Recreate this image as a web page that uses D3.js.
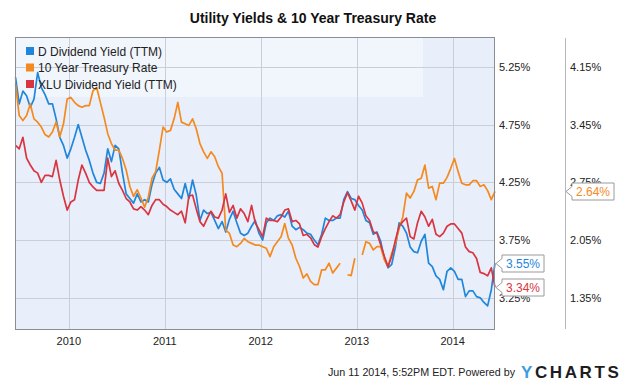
<!DOCTYPE html>
<html>
<head>
<meta charset="utf-8">
<script src="https://cdn.jsdelivr.net/npm/d3@7"></script>
<style>
  body { margin: 0; background: #fff; }
  svg { display: block; font-family: "Liberation Sans", Arial, sans-serif; }
</style>
</head>
<body>
<svg id="chart" width="627" height="382"></svg>
<script>
// sampled every ~2 weeks, Jun 2009 -> Jun 11 2014
const startDate = new Date(2009, 5, 12);
const endDate = new Date(2014, 5, 11);

const dYield = [
  5.16, 4.93, 5.04, 5.00, 4.90, 4.97, 5.20, 5.07, 5.01, 4.93, 4.93, 4.80, 4.64, 4.57, 4.46, 4.54, 4.64, 4.75, 4.64, 4.53, 4.44, 4.33, 4.25, 4.24, 4.33, 4.54, 4.43, 4.57, 4.54, 4.33, 4.15, 4.11, 4.07,
  4.15, 4.08, 4.10, 4.08, 4.23, 4.33, 4.38, 4.27, 4.25, 4.28, 4.19, 4.15, 4.11, 4.24, 4.11, 4.27, 4.14, 3.92, 4.01, 3.98, 3.99, 3.92, 3.85, 3.91, 3.82, 3.93, 4.00, 3.90, 3.81, 3.79, 3.81, 3.87, 3.92,
  3.81, 3.75, 3.90, 3.94, 3.92, 3.96, 3.97, 3.95, 4.00, 3.87, 3.84, 3.86, 3.84, 3.81, 3.80, 3.75, 3.71, 3.80, 3.94, 3.92, 3.92, 3.94, 3.94, 4.10, 4.17, 4.11, 4.10, 4.05, 4.01, 3.92, 3.90, 3.80,
  3.82, 3.74, 3.59, 3.51, 3.54, 3.69, 3.90, 3.87, 3.81, 3.69, 3.65, 3.64, 3.74, 3.80, 3.55, 3.52, 3.44, 3.41, 3.32, 3.48, 3.51, 3.48, 3.41, 3.41, 3.26, 3.31, 3.31, 3.26, 3.25, 3.21, 3.18, 3.32, 3.55
];

const treasury = [
  3.94, 3.56, 3.50, 3.56, 3.70, 3.52, 3.48, 3.42, 3.33, 3.30, 3.36, 3.48, 3.30, 3.46, 3.76, 3.78, 3.72, 3.68, 3.66, 3.68, 3.68, 3.86, 3.90, 3.72, 3.54, 3.34, 3.22, 3.14, 3.14, 3.04, 2.90, 2.70, 2.58,
  2.66, 2.56, 2.45, 2.57, 2.80, 2.88, 3.14, 3.42, 3.36, 3.38, 3.52, 3.72, 3.48, 3.46, 3.44, 3.52, 3.40, 3.22, 3.12, 3.04, 3.12, 3.06, 2.94, 2.86, 2.17, 2.13, 1.99, 1.97, 2.01, 2.07, 2.03, 2.01, 1.99,
  1.99, 1.97, 1.95, 1.85, 1.97, 2.03, 2.09, 2.25, 2.07, 1.99, 1.83, 1.73, 1.59, 1.64, 1.55, 1.51, 1.51, 1.69, 1.69, 1.77, 1.65, 1.71, 1.77, null, 1.63, 1.62, 1.83, null, 1.87, 2.03, 2.01, 1.93,
  1.97, 1.97, 1.81, 1.73, 1.89, 2.01, 2.19, 2.33, 2.62, 2.56, 2.64, 2.78, 2.80, 2.96, 2.68, 2.70, 2.54, 2.74, 2.74, 2.81, 2.92, 3.04, 2.88, 2.74, 2.72, 2.72, 2.77, 2.77, 2.70, 2.72, 2.65, 2.54, 2.64
];

const xluYield = [
  4.57, 4.54, 4.64, 4.46, 4.40, 4.35, 4.33, 4.25, 4.31, 4.31, 4.30, 4.44, 4.27, 4.13, 4.01, 4.08, 4.10, 4.27, 4.40, 4.33, 4.25, 4.21, 4.18, 4.18, 4.18, 4.46, 4.30, 4.35, 4.24, 4.18, 4.11, 4.08, 4.02,
  4.01, 4.04, 4.01, 3.97, 4.05, 4.10, 4.10, 4.06, 4.04, 4.01, 3.99, 3.97, 4.00, 3.90, 4.13, 4.14, 4.02, 3.91, 3.87, 3.94, 4.00, 3.95, 3.94, 4.01, 4.15, 3.99, 4.05, 3.94, 4.02, 3.98, 3.91, 4.05, 3.90,
  3.84, 3.78, 3.94, 3.92, 3.92, 3.91, 3.95, 4.01, 4.02, 3.91, 3.92, 3.89, 3.79, 3.80, 3.77, 3.71, 3.69, 3.78, 3.85, 3.91, 3.96, 3.94, 3.97, 4.08, 4.16, 4.09, 4.01, 4.13, 4.07, 3.96, 3.92, 3.82,
  3.81, 3.71, 3.61, 3.52, 3.61, 3.75, 3.87, 3.91, 3.94, 3.78, 3.76, 3.90, 4.00, 3.95, 3.87, 3.93, 3.80, 3.78, 3.81, 3.87, 3.89, 3.89, 3.85, 3.81, 3.69, 3.65, 3.64, 3.59, 3.47, 3.46, 3.44, 3.51, 3.34
];

const leftTicks = [5.25, 4.75, 4.25, 3.75, 3.25];
const rightTicks = [4.15, 3.45, 2.75, 2.05, 1.35];
const yearTicks = [2010, 2011, 2012, 2013, 2014];

const seriesNames = ["D Dividend Yield (TTM)", "10 Year Treasury Rate", "XLU Dividend Yield (TTM)"];
const colors = ["#1f86dc", "#f5891e", "#d93540"];

const svg = d3.select("#chart");
const plot = { left: 15, right: 495, top: 38, bottom: 329 };

const n = dYield.length;
const span = (endDate - startDate) / (n - 1);
const dates = d3.range(n).map((i) => new Date(+startDate + i * span));

const x = d3.scaleTime()
  .domain([new Date(2009, 5, 10), new Date(2014, 5, 11)])
  .range([plot.left, plot.right]);
const yLeft = d3.scaleLinear().domain([2.98, 5.5]).range([plot.bottom, plot.top]);
const yRight = d3.scaleLinear().domain([0.972, 4.5]).range([plot.bottom, plot.top]);

// title
svg.append("text")
  .attr("x", 313).attr("y", 23)
  .attr("text-anchor", "middle")
  .attr("font-size", 14).attr("font-weight", "bold")
  .attr("fill", "#111")
  .text("Utility Yields & 10 Year Treasury Rate");

// plot background
svg.append("rect")
  .attr("x", plot.left).attr("y", plot.top)
  .attr("width", plot.right - plot.left).attr("height", plot.bottom - plot.top)
  .attr("fill", "#e9effa");
svg.append("rect")
  .attr("x", plot.left).attr("y", plot.top)
  .attr("width", 408).attr("height", 59)
  .attr("fill", "#f1f5fc");

// grid
svg.append("g").selectAll("line").data(leftTicks).join("line")
  .attr("x1", plot.left).attr("x2", plot.right)
  .attr("y1", (d) => Math.round(yLeft(d)) + 0.5).attr("y2", (d) => Math.round(yLeft(d)) + 0.5)
  .attr("stroke", "#c9ced9");
svg.append("g").selectAll("line").data(yearTicks).join("line")
  .attr("x1", (d) => Math.round(x(new Date(d, 0, 1))) + 0.5)
  .attr("x2", (d) => Math.round(x(new Date(d, 0, 1))) + 0.5)
  .attr("y1", plot.top).attr("y2", plot.bottom)
  .attr("stroke", "#c9ced9");

// series lines
const series = [
  { values: dYield, y: yLeft },
  { values: treasury, y: yRight },
  { values: xluYield, y: yLeft },
];
series.forEach((s, k) => {
  const line = d3.line()
    .defined((d) => d != null)
    .x((d, i) => x(dates[i]))
    .y((d) => s.y(d));
  svg.append("path")
    .datum(s.values)
    .attr("d", line)
    .attr("fill", "none")
    .attr("stroke", colors[k])
    .attr("stroke-width", 1.7)
    .attr("stroke-linejoin", "round");
});

// plot border
svg.append("rect")
  .attr("x", plot.left + 0.5).attr("y", plot.top - 0.5)
  .attr("width", plot.right - plot.left - 1).attr("height", plot.bottom - plot.top + 1)
  .attr("fill", "none").attr("stroke", "#8a8d94");

// right axis line
svg.append("line")
  .attr("x1", 565.5).attr("x2", 565.5)
  .attr("y1", plot.top).attr("y2", plot.bottom)
  .attr("stroke", "#b5b8be");

// legend
const legend = svg.append("g").selectAll("g").data(seriesNames).join("g")
  .attr("transform", (d, i) => `translate(26, ${51 + i * 16.5})`);
legend.append("rect")
  .attr("x", 0).attr("y", -4).attr("width", 8).attr("height", 8)
  .attr("fill", (d, i) => colors[i]);
legend.append("text")
  .attr("x", 12).attr("y", 4.5)
  .attr("font-size", 12).attr("fill", "#222")
  .text((d) => d);

// axes labels
svg.append("g").selectAll("text").data(yearTicks).join("text")
  .attr("x", (d) => x(new Date(d, 0, 1)))
  .attr("y", 345)
  .attr("text-anchor", "middle")
  .attr("font-size", 11).attr("fill", "#222")
  .text((d) => d);
svg.append("g").selectAll("text").data(leftTicks).join("text")
  .attr("x", 499).attr("y", (d) => yLeft(d) + 4)
  .attr("font-size", 11).attr("fill", "#222")
  .text((d) => d.toFixed(2) + "%");
svg.append("g").selectAll("text").data(rightTicks).join("text")
  .attr("x", 570).attr("y", (d) => yRight(d) + 4)
  .attr("font-size", 11).attr("fill", "#222")
  .text((d) => d.toFixed(2) + "%");

// end value flags
function flag(xTip, yv, value, color) {
  const w = 42, h = 17, g = svg.append("g");
  const yc = Math.round(yv) + 0.5, x0 = xTip + 6;
  g.append("path")
    .attr("d", `M${xTip},${yc} L${x0},${yc - 5} L${x0},${yc - h / 2} L${x0 + w},${yc - h / 2} L${x0 + w},${yc + h / 2} L${x0},${yc + h / 2} L${x0},${yc + 5} Z`)
    .attr("fill", "#fff").attr("stroke", "#9a9a9a");
  g.append("text")
    .attr("x", x0 + w / 2).attr("y", yc + 4.5)
    .attr("text-anchor", "middle")
    .attr("font-size", 12).attr("fill", color)
    .text(value.toFixed(2) + "%");
}
flag(566, yRight(treasury[n - 1]), treasury[n - 1], colors[1]);
flag(496, yLeft(dYield[n - 1]), dYield[n - 1], colors[0]);
flag(496, yLeft(xluYield[n - 1]), xluYield[n - 1], colors[2]);

// footer
svg.append("text")
  .attr("x", 515).attr("y", 376)
  .attr("text-anchor", "end")
  .attr("font-size", 11).attr("fill", "#222")
  .attr("textLength", 187).attr("lengthAdjust", "spacingAndGlyphs")
  .text("Jun 11 2014, 5:52PM EDT.  Powered by");
const logo = svg.append("text")
  .attr("x", 521).attr("y", 378)
  .attr("font-size", 17).attr("font-weight", "bold")
  .attr("letter-spacing", 2.6);
logo.append("tspan").attr("fill", "#3e9ce0").text("Y");
logo.append("tspan").attr("fill", "#1d1d1f").text("CHARTS");
</script>
</body>
</html>
